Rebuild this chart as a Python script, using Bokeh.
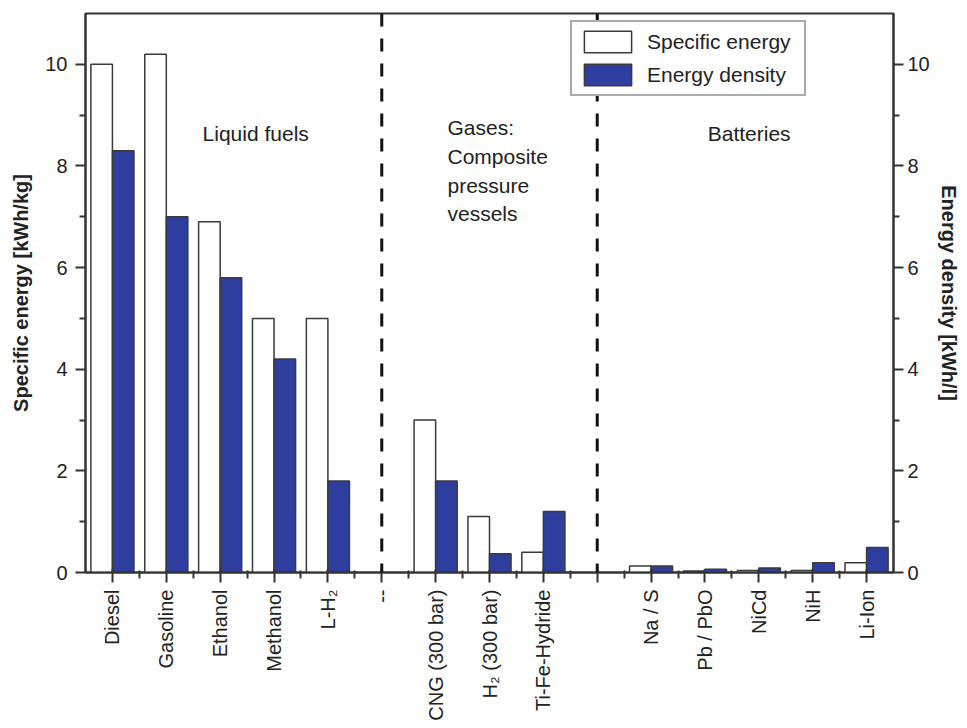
import numpy as np
from bokeh.plotting import figure
from bokeh.models import (ColumnDataSource, LinearAxis, FixedTicker, Range1d,
                          Span, Legend, LegendItem)
from bokeh.core.properties import value
from bokeh.transform import dodge
from bokeh.embed import file_html
from bokeh.resources import INLINE

# ---------------- data ----------------
categories = ["Diesel", "Gasoline", "Ethanol", "Methanol", "L-H\u2082", "--",
              "CNG (300 bar)", "H\u2082 (300 bar)", "Ti-Fe-Hydride", "",
              "Na / S", "Pb / PbO", "NiCd", "NiH", "Li-Ion"]
specific_energy = [10.0, 10.2, 6.9, 5.0, 5.0, None,
                   3.0, 1.1, 0.4, None,
                   0.13, 0.03, 0.04, 0.04, 0.19]
energy_density = [8.3, 7.0, 5.8, 4.2, 1.8, None,
                  1.8, 0.37, 1.2, None,
                  0.13, 0.065, 0.09, 0.19, 0.49]
group_labels = ["Liquid fuels", "Gases:\nComposite\npressure\nvessels", "Batteries"]
y_ticks = [0, 2, 4, 6, 8, 10]
y_minor = [1, 3, 5, 7, 9]

FONT = "Liberation Sans"
BLUE = "#2D3E9F"
EDGE = "#3a3a3a"
TXT = "#222222"

idx = np.arange(len(categories))
keep = [i for i, v in enumerate(specific_energy) if v is not None]
src = ColumnDataSource(dict(
    x=[float(i) for i in keep],
    se=[specific_energy[i] for i in keep],
    ed=[energy_density[i] for i in keep],
))
separators = [i for i, c in enumerate(categories) if c in ("--", "")]

p = figure(width=967, height=728, output_backend="svg", toolbar_location=None,
           x_range=Range1d(-0.5, len(categories) - 0.5), y_range=Range1d(0, 11),
           min_border_left=85, min_border_right=74, min_border_top=13,
           min_border_bottom=156)
p.grid.visible = False
p.outline_line_color = "#333333"
p.outline_line_width = 2
p.background_fill_color = "white"
p.border_fill_color = "white"

bar_w = 0.4
r_se = p.vbar(x=dodge("x", -bar_w / 2), top="se", width=bar_w, source=src,
              fill_color="white", line_color=EDGE, line_width=1.5)
r_ed = p.vbar(x=dodge("x", bar_w / 2), top="ed", width=bar_w, source=src,
              fill_color=BLUE, line_color=EDGE, line_width=1.5)

for s in separators:
    p.add_layout(Span(location=s, dimension="height", line_color="#111111",
                      line_width=3, line_dash="13 12"))

def style_axis(ax):
    ax.axis_line_color = "#333333"
    ax.axis_line_width = 2
    ax.major_tick_line_color = "#333333"
    ax.minor_tick_line_color = "#333333"
    ax.major_tick_line_width = 2
    ax.minor_tick_line_width = 2
    ax.major_label_text_font = FONT
    ax.major_label_text_font_size = "20px"
    ax.major_label_text_color = TXT
    ax.axis_label_text_font = FONT
    ax.axis_label_text_font_size = "20px"
    ax.axis_label_text_font_style = "bold"
    ax.axis_label_text_color = TXT

xa = p.xaxis[0]
style_axis(xa)
xa.ticker = FixedTicker(ticks=list(idx), minor_ticks=list(idx[:-1] + 0.5))
xa.major_label_overrides = {int(i): c for i, c in enumerate(categories)}
xa.major_label_orientation = np.pi / 2
xa.major_label_text_font_size = "20px"
xa.major_tick_out = 10
xa.major_tick_in = 3
xa.minor_tick_out = 6
xa.minor_tick_in = 2
xa.major_label_standoff = 7

ya = p.yaxis[0]
style_axis(ya)
ya.ticker = FixedTicker(ticks=y_ticks, minor_ticks=y_minor)
ya.axis_label = "Specific energy [kWh/kg]"
ya.major_tick_out = 10
ya.major_tick_in = 0
ya.minor_tick_out = 6
ya.minor_tick_in = 0
ya.major_label_standoff = 8
ya.axis_label_standoff = 10

ra = LinearAxis(axis_label="Energy density [kWh/l]")
style_axis(ra)
ra.ticker = FixedTicker(ticks=y_ticks, minor_ticks=y_minor)
ra.major_tick_out = 10
ra.major_tick_in = 0
ra.minor_tick_out = 6
ra.minor_tick_in = 0
ra.major_label_standoff = 4
ra.axis_label_standoff = 5
p.add_layout(ra, "right")

p.text(x=[2.66], y=[8.64], text=[group_labels[0]], text_font=value(FONT),
       text_font_size="21px", text_align="center", text_baseline="middle",
       text_color=TXT)
p.text(x=[6.22], y=[8.98], text=[group_labels[1]], text_font=value(FONT),
       text_font_size="21px", text_align="left", text_baseline="top",
       text_color=TXT, text_line_height=1.25)
p.text(x=[11.82], y=[8.64], text=[group_labels[2]], text_font=value(FONT),
       text_font_size="21px", text_align="center", text_baseline="middle",
       text_color=TXT)

legend = Legend(items=[LegendItem(label="Specific energy", renderers=[r_se]),
                       LegendItem(label="Energy density", renderers=[r_ed])],
                location=(485, 476))
legend.label_text_font = FONT
legend.label_text_font_size = "21px"
legend.label_text_color = TXT
legend.glyph_width = 59
legend.glyph_height = 27
legend.label_standoff = 10
legend.label_width = 151
legend.padding = 6
legend.spacing = 6
legend.margin = 0
legend.border_line_color = "#555555"
legend.border_line_width = 2
legend.background_fill_alpha = 1
p.add_layout(legend, "center")

open("out.html", "w").write(file_html(p, INLINE))
